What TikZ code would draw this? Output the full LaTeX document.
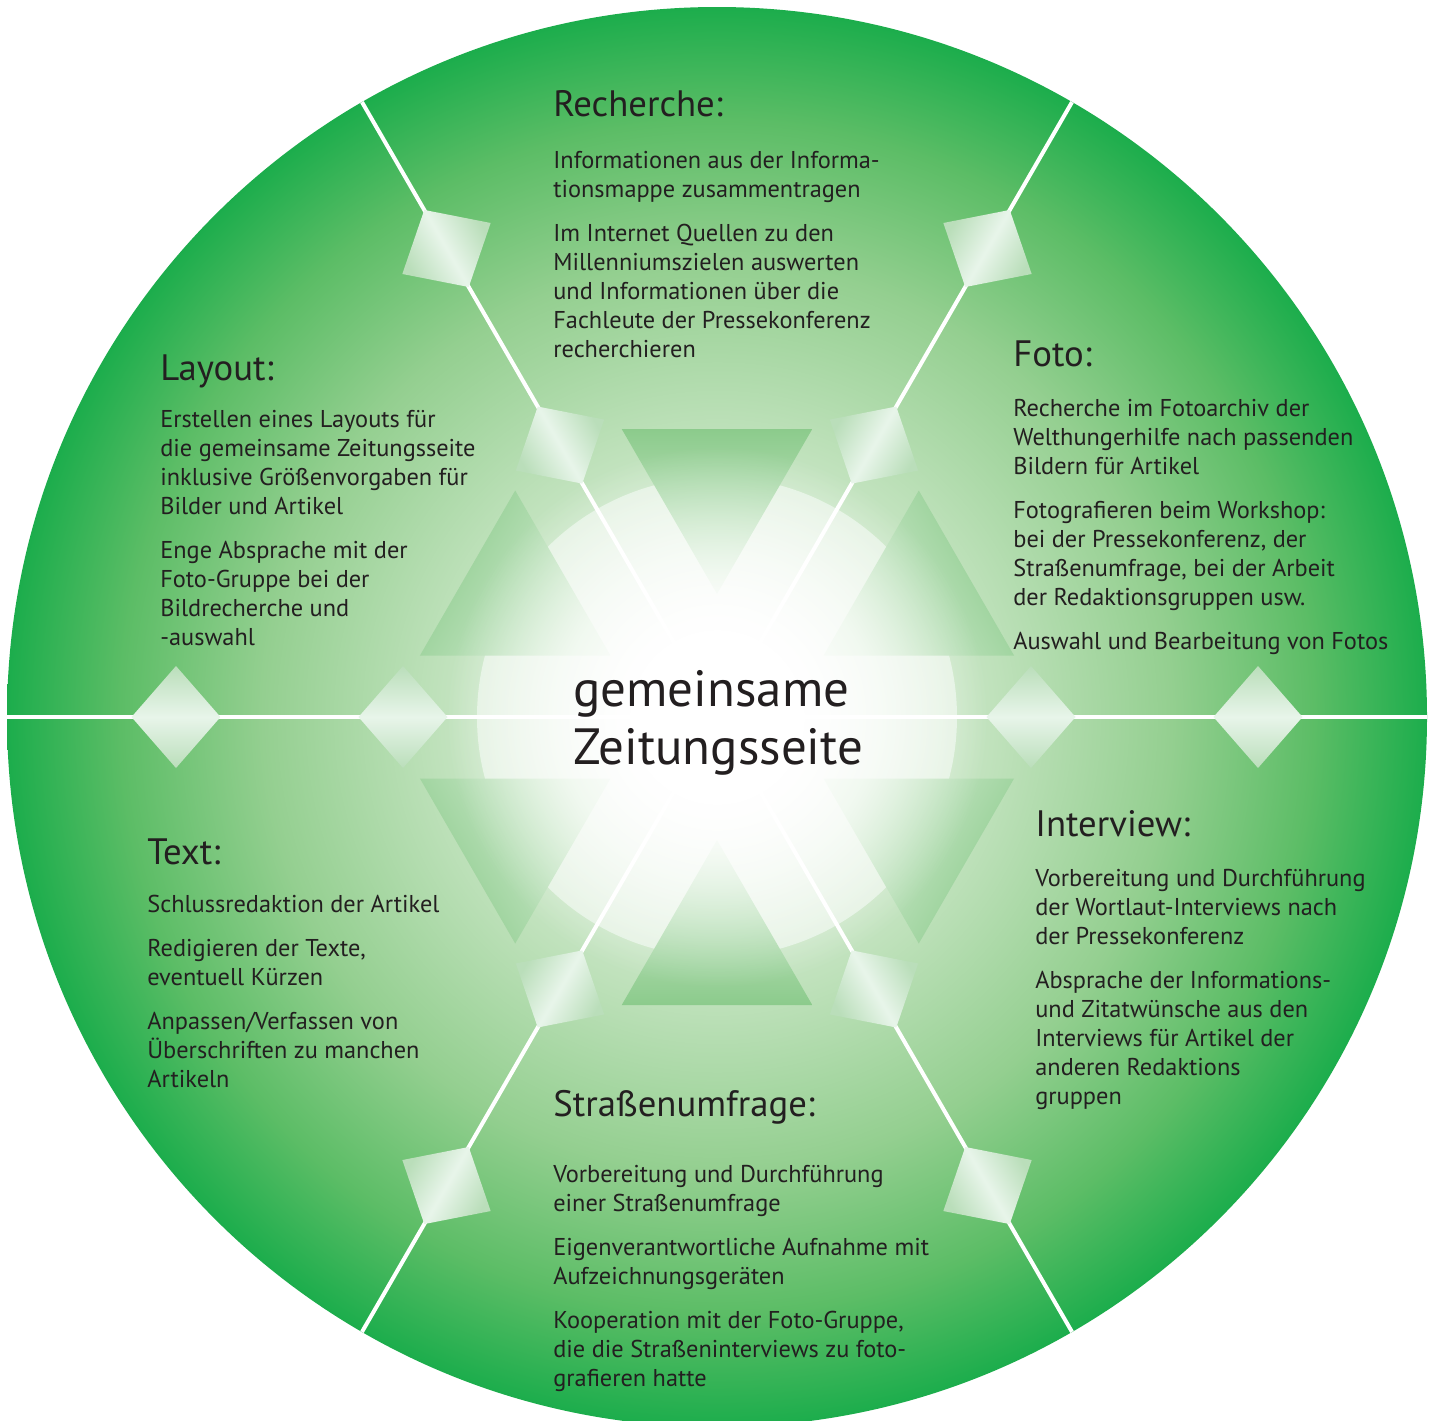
\documentclass[tikz,border=0pt]{standalone}
\usepackage{fontspec}
\setmainfont{PT Sans}
\usepackage{tikz}
\usetikzlibrary{calc,positioning,fadings}

\definecolor{randgruen}{RGB}{28,173,76}
\definecolor{ringA}{RGB}{228,242,226}
\definecolor{ringB}{RGB}{190,225,186}
\definecolor{ringC}{RGB}{148,207,144}
\definecolor{ringD}{RGB}{92,189,102}
\definecolor{dreieckaussen}{RGB}{140,203,140}
\definecolor{dreieckinnen}{RGB}{220,240,218}
\definecolor{rautegruen}{RGB}{186,222,186}
\definecolor{rautehell}{RGB}{232,245,234}
\definecolor{schrift}{RGB}{35,31,32}

\pgfdeclareradialshading{kreisverlauf}{\pgfpoint{0bp}{0bp}}{%
  color(0bp)=(white); color(4bp)=(ringA); color(10bp)=(ringB);
  color(16bp)=(ringC); color(21bp)=(ringD); color(25bp)=(randgruen); color(50bp)=(randgruen)}
\pgfdeclareradialshading{glanzmaske}{\pgfpoint{0bp}{0bp}}{%
  color(0bp)=(white); color(8bp)=(white); color(25bp)=(black); color(50bp)=(black)}
\pgfdeclarefading{glanz}{\pgfuseshading{glanzmaske}}

\tikzset{
  kopf/.style={anchor=west, inner sep=0pt, text=schrift,
    font=\fontsize{20.9pt}{24pt}\selectfont, text height=0.72em, text depth=0pt},
  liste/.style={anchor=north west, inner sep=0pt, text=schrift, align=left,
    font=\fontsize{13.85pt}{5.8mm}\selectfont},
  titel/.style={anchor=west, inner sep=0pt, text=schrift, align=left,
    font=\fontsize{29pt}{11.5mm}\selectfont},
  trennlinie/.style={white, line width=0.8mm},
  raute/.style={top color=rautegruen, bottom color=rautegruen, middle color=rautehell},
  dreieck/.style={top color=dreieckaussen, bottom color=dreieckinnen},
}

\begin{document}
\begin{tikzpicture}[x=0.2mm, y=-0.2mm]
  \useasboundingbox (0,0) rectangle (1435,1420);
  \coordinate (c) at (717,717);

  % Grundkreis
  \shade[shading=kreisverlauf] (c) circle (710);
  \fill[white, opacity=0.5] (c) circle (240);

  % Dreiecke um die Mitte
  \foreach \w in {30,90,...,330}{
    \shade[dreieck, shading angle=-\w-90]
      ($(c)+(\w:233)+(\w+180:110)$) -- ($(c)+(\w:233)+(\w+60:110)$)
      -- ($(c)+(\w:233)+(\w-60:110)$) -- cycle;
  }

  % Trennlinien
  \foreach \w in {0,60,...,300}{
    \coordinate (rand\w) at ($(c)+(\w:710)$);
    \draw[trennlinie] (c) -- (rand\w);
  }

  % Rauten auf den Linien
  \foreach \w in {0,60,...,300}{
    \foreach \d in {314,541}{
      \shade[raute, shading angle=-\w]
        ($(c)+(\w:{\d-44.5})$) -- ($(c)+(\w:\d)+(\w+90:51)$)
        -- ($(c)+(\w:{\d+44.5})$) -- ($(c)+(\w:\d)+(\w-90:51)$) -- cycle;
    }
  }

  % Glanz in der Mitte
  \fill[white, path fading=glanz] (c) circle (270);

  \node[titel] (mitte) at (573,723) {gemeinsame\\Zeitungsseite};

  \node[kopf] (kopfRecherche) at (553,110) {Recherche:};
  \node[liste, below=6.9mm of kopfRecherche.south west, anchor=north west] (listeRecherche)
    {Informationen aus der Informa-\\tionsmappe zusammentragen\\[3mm]
     Im Internet Quellen zu den\\Millenniumszielen auswerten\\und Informationen über die\\
     Fachleute der Pressekonferenz\\recherchieren};

  \node[kopf] (kopfLayout) at (160,374) {Layout:};
  \node[liste, below=5.9mm of kopfLayout.south west, anchor=north west] (listeLayout)
    {Erstellen eines Layouts für\\die gemeinsame Zeitungsseite\\inklusive Größenvorgaben für\\
     Bilder und Artikel\\[3mm]
     Enge Absprache mit der\\Foto-Gruppe bei der\\Bildrecherche und\\-auswahl};

  \node[kopf] (kopfFoto) at (1013,360) {Foto:};
  \node[liste, below=6.5mm of kopfFoto.south west, anchor=north west] (listeFoto)
    {Recherche im Fotoarchiv der\\Welthungerhilfe nach passenden\\Bildern für Artikel\\[3mm]
     Fotografieren beim Workshop:\\bei der Pressekonferenz, der\\Straßenumfrage, bei der Arbeit\\
     der Redaktionsgruppen usw.\\[3mm]
     Auswahl und Bearbeitung von Fotos};

  \node[kopf] (kopfText) at (147,858) {Text:};
  \node[liste, below=6.1mm of kopfText.south west, anchor=north west] (listeText)
    {Schlussredaktion der Artikel\\[3mm]
     Redigieren der Texte,\\eventuell Kürzen\\[3mm]
     Anpassen/Verfassen von\\Überschriften zu manchen\\Artikeln};

  \node[kopf] (kopfInterview) at (1035,830) {Interview:};
  \node[liste, below=6.5mm of kopfInterview.south west, anchor=north west] (listeInterview)
    {Vorbereitung und Durchführung\\der Wortlaut-Interviews nach\\der Pressekonferenz\\[3mm]
     Absprache der Informations-\\und Zitatwünsche aus den\\Interviews für Artikel der\\
     anderen Redaktions\\gruppen};

  \node[kopf] (kopfUmfrage) at (553,1110) {Straßenumfrage:};
  \node[liste, below=9.7mm of kopfUmfrage.south west, anchor=north west] (listeUmfrage)
    {Vorbereitung und Durchführung\\einer Straßenumfrage\\[3mm]
     Eigenverantwortliche Aufnahme mit\\Aufzeichnungsgeräten\\[3mm]
     Kooperation mit der Foto-Gruppe,\\die die Straßeninterviews zu foto-\\grafieren hatte};
\end{tikzpicture}
\end{document}
